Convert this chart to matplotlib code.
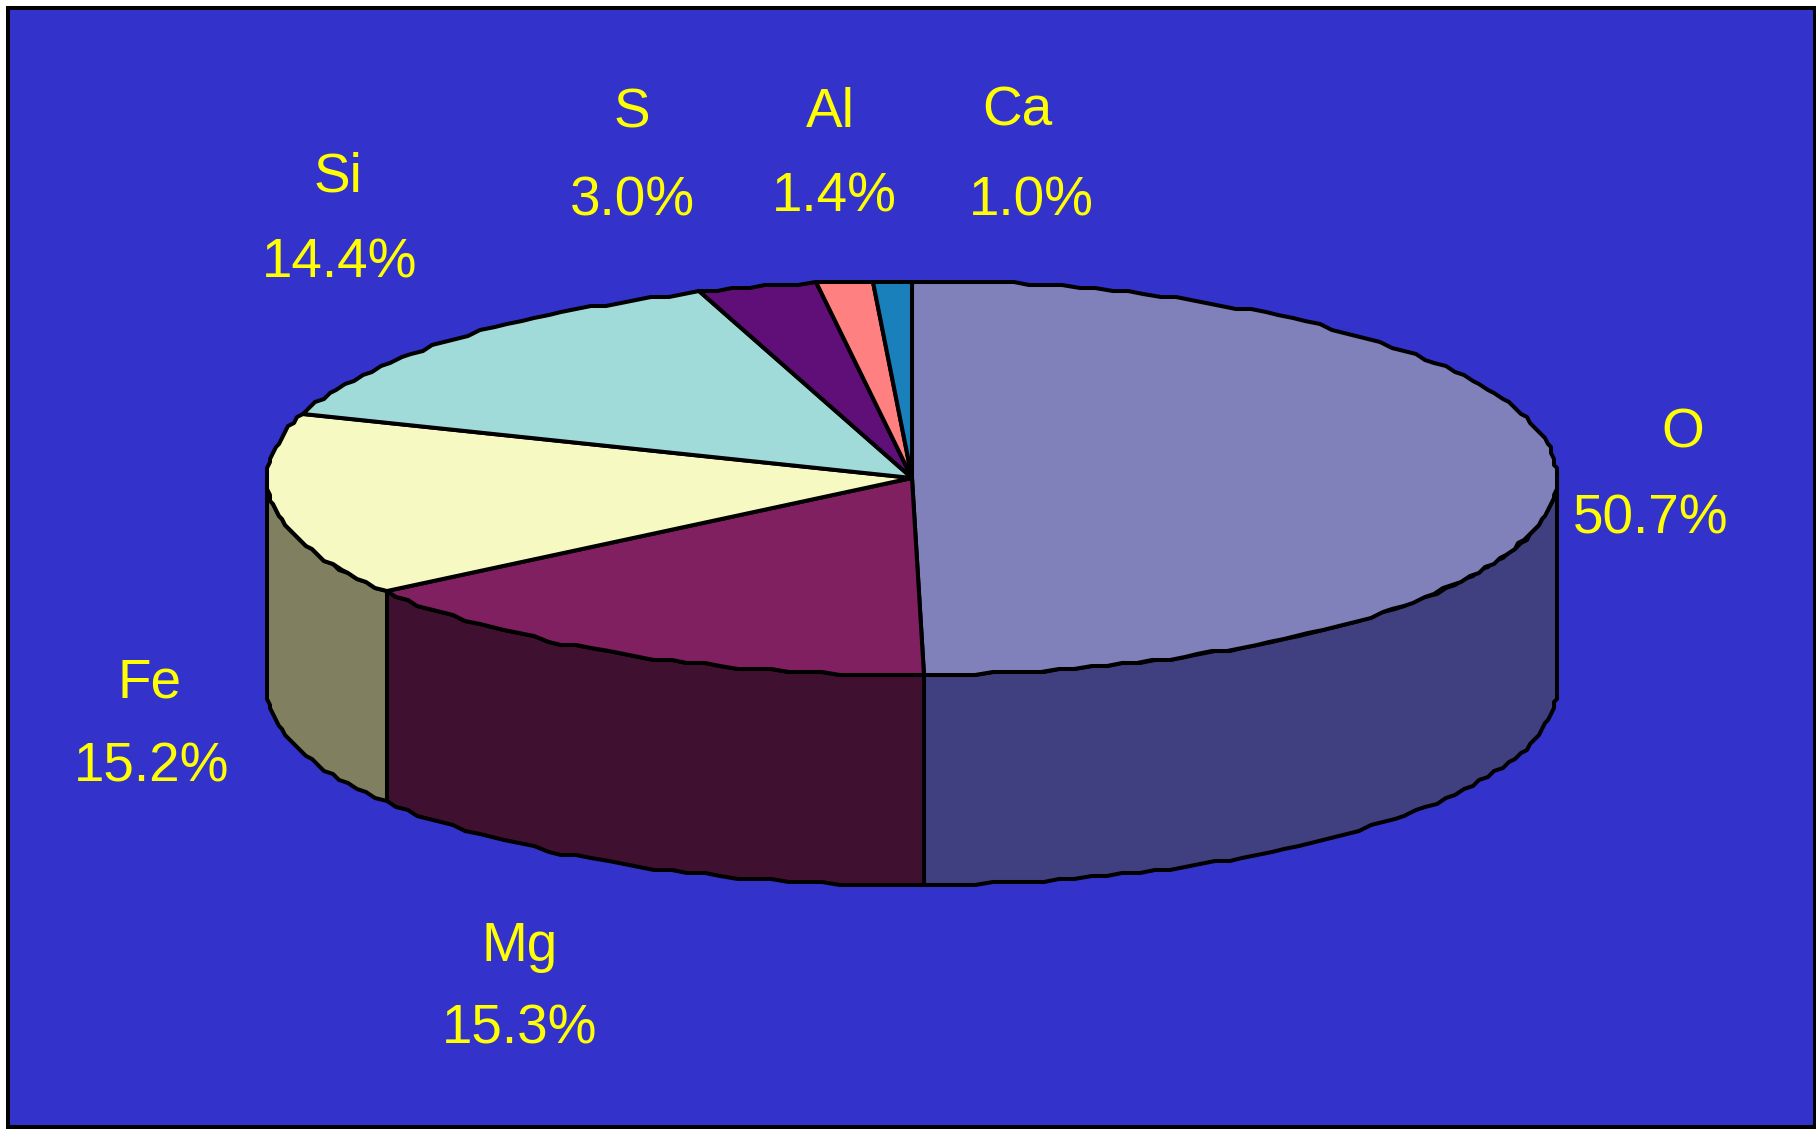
import numpy as np
import matplotlib
matplotlib.use('Agg')
import matplotlib.pyplot as plt
from matplotlib.patches import Polygon, Rectangle

plt.rcParams['font.family'] = ['Liberation Sans', 'DejaVu Sans']

# element shares
elements = ['O', 'Mg', 'Fe', 'Si', 'S', 'Al', 'Ca']
percent = [50.7, 15.3, 15.2, 14.4, 3.0, 1.4, 1.0]
value_labels = ['50.7%', '15.3%', '15.2%', '14.4%', '3.0%', '1.4%', '1.0%']

top_colors = ['#8080BB', '#802060', '#F6F9C1', '#A0DBD9', '#600F78', '#FF8080', '#1A80BB']
side_colors = ['#404080', '#401030', '#808060', '#507070', '#300840', '#804040', '#0D4060']

# label centres in pixels: name, then value
name_pos = [(1683, 434), (520, 947), (150, 683), (338, 178), (632, 113), (830, 113), (1017, 112)]
value_pos = [(1651, 519), (520, 1030), (152, 768), (340, 263), (632, 201), (834, 197), (1031, 201)]

cx, cy = 912, 478
a, b = 645, 197
depth = 210
lw = 2.9


def rim(start, end, shift=0):
    # disc edge, snapped to a coarse grid so the outline steps like a metafile
    n = max(2, int(abs(end - start) / 1.5) + 1)
    t = np.linspace(start, end, n)
    t = t - 1.9 * np.exp(-((t - 180) / 50) ** 2)  # the front leans a little
    x = cx + a * np.sin(np.radians(t))
    y = cy - b * np.cos(np.radians(t))
    x = np.round(x / 3) * 3
    y = np.round(y / 3) * 3
    return np.column_stack([x, y + shift])


fig = plt.figure(figsize=(18.16, 11.32), dpi=100, facecolor='white')
ax = fig.add_axes([0, 0, 1, 1])
ax.set_xlim(0, 1816)
ax.set_ylim(1132, 0)
ax.axis('off')

ax.add_patch(Rectangle((8, 8), 1806.5, 1119, facecolor='#3333CC', edgecolor='black', lw=lw))

edges = np.cumsum([0] + percent) / sum(percent) * 360

# side wall, only the front half of the disc shows it
for i in range(len(percent)):
    s = max(edges[i], 90)
    e = min(edges[i + 1], 270)
    if s >= e:
        continue
    upper = rim(s, e)
    lower = rim(s, e, depth)
    ax.add_patch(Polygon(np.vstack([upper, lower[::-1]]), closed=True, facecolor=side_colors[i],
                         edgecolor='black', lw=lw, joinstyle='round', zorder=2))

# top face
for i in range(len(percent)):
    pts = np.vstack([[(cx, cy)], rim(edges[i], edges[i + 1])])
    ax.add_patch(Polygon(pts, closed=True, facecolor=top_colors[i], edgecolor='black',
                         lw=lw, joinstyle='round', zorder=3))

for i in range(len(elements)):
    ax.text(*name_pos[i], elements[i], color='#FFFF00', fontsize=39.5, ha='center', va='center')
    ax.text(*value_pos[i], value_labels[i], color='#FFFF00', fontsize=39.5, ha='center', va='center')

fig.savefig('out.png', dpi=100)
